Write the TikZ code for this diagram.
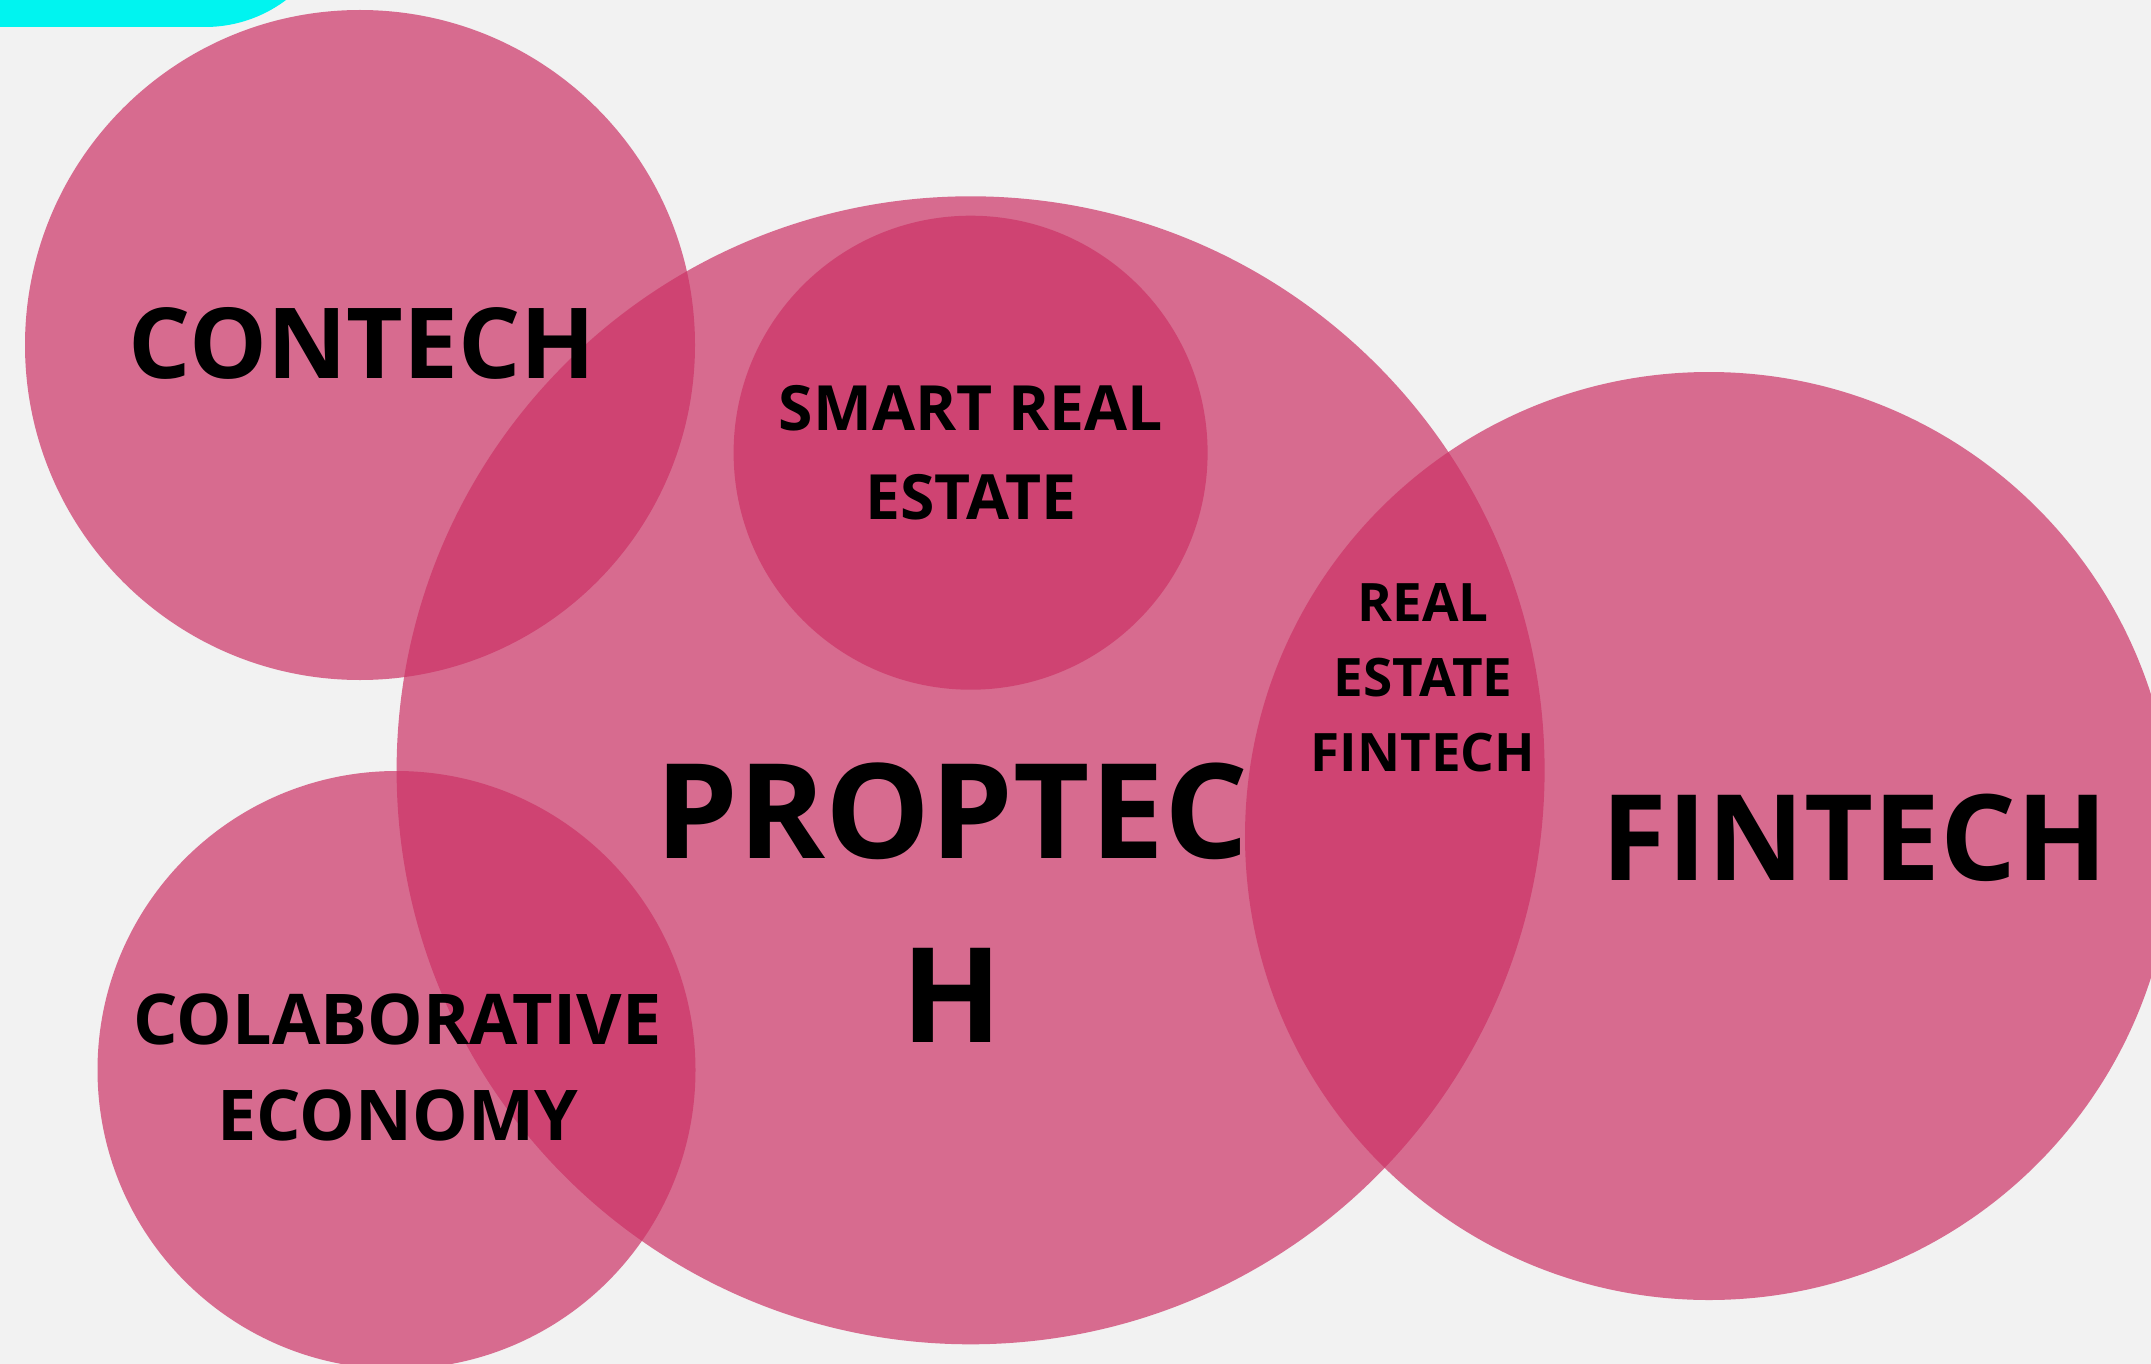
\documentclass[tikz,border=0pt]{standalone}
\usepackage{fontspec}
\setmainfont{Open Sans}
\definecolor{bgcol}{HTML}{F2F2F2}
\definecolor{pinkcol}{HTML}{CC3366}
\definecolor{cyancol}{HTML}{00F4F0}
\begin{document}
\begin{tikzpicture}[x=1pt,y=-1pt,
  bubble/.style={fill=pinkcol,fill opacity=0.7},
  lbl/.style={inner sep=0pt,align=center,text=black,font=\bfseries}]
\useasboundingbox (0,0) rectangle (2151,1364);
\fill[bgcol] (0,0) rectangle (2151,1364);
\clip (0,0) rectangle (2151,1364);
\fill[cyancol] (-400,-243) [rounded corners=135pt] rectangle (340,27);
% circles
\fill[bubble] (360,345) circle[radius=335pt];
\fill[bubble] (970.6,770.3) circle[radius=574pt];
\fill[bubble] (970.6,452.7) circle[radius=237pt];
\fill[bubble] (1709,836) circle[radius=464pt];
\fill[bubble] (396.5,1070) circle[radius=299pt];
% labels
\node[lbl,anchor=base,font=\bfseries\fontsize{98}{98}\selectfont] (tcontech) at (362.4,378.6) {CONTECH};
\node[lbl,anchor=north,font=\bfseries\fontsize{62.4}{89}\selectfont] (tsmart) at (971,385.5) {SMART REAL\\ESTATE};
\node[lbl,anchor=north,font=\bfseries\fontsize{132}{184}\selectfont] (tprop) at (952,762.7) {PROPTEC\\H};
\node[lbl,anchor=north,font=\bfseries\fontsize{53}{74.7}\selectfont] (trefin) at (1423,583.5) {REAL\\ESTATE\\FINTECH};
\node[lbl,anchor=base,font=\bfseries\fontsize{119.4}{119.4}\selectfont] (tfin) at (1854.7,880.7) {FINTECH};
\node[lbl,anchor=north,font=\bfseries\fontsize{70}{96}\selectfont] (tcolab) at (397.5,994) {COLABORATIVE\\ECONOMY};
\end{tikzpicture}
\end{document}
